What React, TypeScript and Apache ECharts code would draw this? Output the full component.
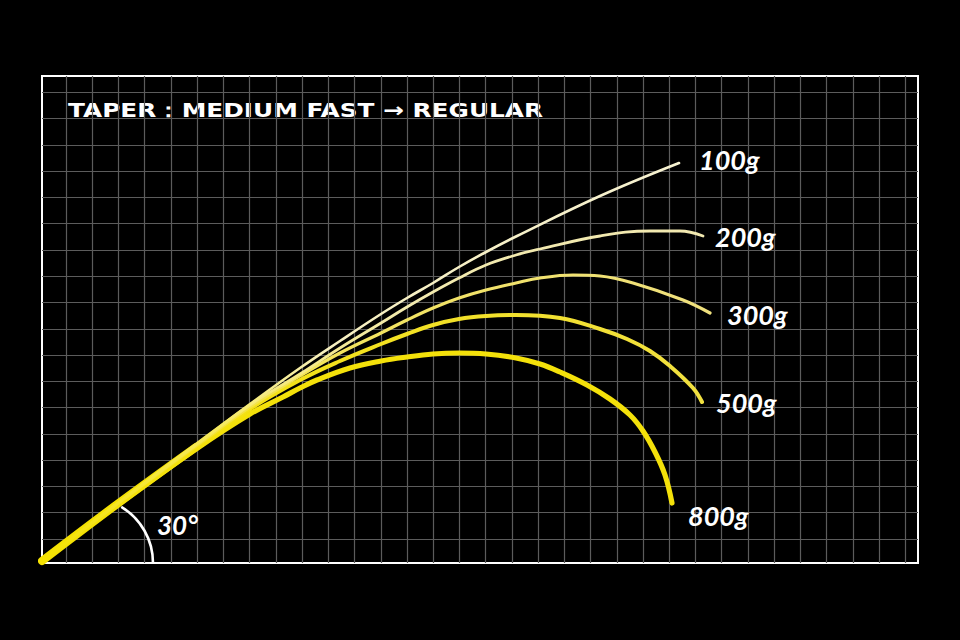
import { useEffect, useRef } from 'react'
import * as echarts from 'echarts'

// curve points: x = px from the left frame, y = px up from the bottom frame
const x800 = [0, 74, 154, 208, 241, 258, 275, 308, 339, 365, 391, 417, 444, 474, 498, 518, 545, 568, 588, 601, 613, 623, 630]
const y800 = [2, 57, 114, 149, 166, 175, 183, 195, 202, 206, 209, 210, 209, 205, 199, 191, 178, 164, 148, 132, 111, 88, 60]
const x500 = [0, 74, 154, 208, 258, 298, 339, 365, 391, 417, 444, 474, 518, 558, 585, 608, 628, 651, 660]
const y500 = [2, 58, 116, 154, 183, 202, 219, 229, 238, 244, 247, 248, 245, 234, 224, 212, 197, 175, 161]
const x300 = [0, 74, 154, 208, 258, 298, 339, 365, 391, 417, 444, 474, 498, 531, 558, 591, 641, 668]
const y300 = [2, 58, 117, 156, 187, 210, 230, 243, 255, 265, 273, 280, 285, 288, 287, 280, 263, 250]
const x200 = [0, 74, 154, 208, 258, 298, 339, 365, 391, 417, 444, 474, 498, 558, 608, 638, 661]
const y200 = [2, 58, 118, 158, 189, 215, 240, 256, 271, 285, 298, 308, 314, 327, 332, 332, 327]
const x100 = [0, 74, 154, 208, 258, 298, 339, 365, 391, 417, 444, 475, 558, 637]
const y100 = [2, 59, 119, 159, 195, 222, 249, 265, 280, 296, 311, 327, 367, 400]
const trunkX = [0, 74, 154]
const trunkY = [2, 58, 116]

const loads = ['800g', '500g', '300g', '200g', '100g']
const titleText = 'TAPER：MEDIUM FAST → REGULAR'
const angleText = '30°'

const zip = (xs: number[], ys: number[]) => xs.map((x, i) => [x, ys[i]])

const YELLOW = '#f5e200'

export default function App() {
  const chartRef = useRef<HTMLDivElement>(null)

  useEffect(() => {
    document.body.style.margin = '0'
    document.body.style.background = '#000'
    const chart = echarts.init(chartRef.current, null, { renderer: 'svg' })

    const grad = (stops: [number, string][]) =>
      new echarts.graphic.LinearGradient(
        0, 0, 1, 0,
        stops.map(([offset, color]) => ({ offset, color }))
      )

    const label = (offset: number[]) => ({
      show: true,
      formatter: '{a}',
      color: '#fff',
      fontFamily: 'Lato',
      fontStyle: 'italic',
      fontWeight: 'bold',
      fontSize: 27,
      distance: 0,
      offset
    })

    const curve = (name: string, xs: number[], ys: number[], width: number, color: any, offset: number[]) => ({
      name,
      type: 'line',
      xAxisIndex: 0,
      yAxisIndex: 0,
      data: zip(xs, ys),
      smooth: 0.4,
      showSymbol: false,
      silent: true,
      lineStyle: { width, color, cap: 'round' },
      endLabel: label(offset)
    })

    const hidden = { show: false }
    const gridLine = { show: true, showMinLine: false, showMaxLine: false, lineStyle: { color: '#5c5c5c', width: 1.2 } }

    chart.setOption({
      animation: false,
      backgroundColor: '#000',
      textStyle: { fontFamily: 'DejaVu Sans' },
      grid: [
        // data frame (white border)
        { left: 42, top: 76, width: 876, height: 487, show: true, borderColor: '#fff', borderWidth: 2, backgroundColor: 'transparent' },
        // vertical grid lines
        { left: 39.77, top: 76, width: 891.8, height: 487 },
        // horizontal grid lines
        { left: 42, top: 66.05, width: 876, height: 499.2 }
      ],
      xAxis: [
        { type: 'value', gridIndex: 0, min: 0, max: 876, show: false },
        {
          type: 'value', gridIndex: 1, min: -1, max: 33, interval: 1,
          axisLine: hidden, axisTick: hidden, axisLabel: hidden, splitLine: gridLine
        },
        { type: 'value', gridIndex: 2, min: 0, max: 1, show: false }
      ],
      yAxis: [
        { type: 'value', gridIndex: 0, min: 0, max: 487, show: false },
        { type: 'value', gridIndex: 1, min: 0, max: 1, show: false },
        {
          type: 'value', gridIndex: 2, min: -1, max: 18, interval: 1, inverse: true,
          axisLine: hidden, axisTick: hidden, axisLabel: hidden, splitLine: gridLine
        }
      ],
      series: [
        {
          type: 'line', data: zip(trunkX, trunkY), smooth: 0.4, showSymbol: false, silent: true,
          lineStyle: { width: 8, color: YELLOW, cap: 'round' }
        },
        curve(loads[0], x800, y800, 5.2, '#f4e10a', [16, 12]),
        curve(loads[1], x500, y500, 4, grad([[0, YELLOW], [1, '#f1e040']]), [14, 0]),
        curve(loads[2], x300, y300, 3.2, grad([[0, YELLOW], [0.4, '#f3e45a'], [1, '#efe07e']]), [17, 1]),
        curve(loads[3], x200, y200, 2.8, grad([[0, YELLOW], [0.33, '#f5e878'], [0.55, '#f3ebae'], [1, '#f1e8b0']]), [12, 0]),
        curve(loads[4], x100, y100, 2.6, grad([[0, YELLOW], [0.28, '#f6ea60'], [0.45, '#f7f0c0'], [1, '#f6f1d0']]), [20, -4])
      ],
      graphic: [
        {
          type: 'text',
          x: 68,
          y: 110,
          scaleX: 1.24,
          style: {
            text: titleText,
            fill: '#fff',
            font: 'bold 20px "DejaVu Sans"',
            verticalAlign: 'middle'
          }
        },
        {
          type: 'arc',
          shape: { cx: 87.5, cy: 563, r: 65.5, startAngle: -1.03, endAngle: 0, clockwise: true },
          style: { stroke: '#fff', lineWidth: 2.6, fill: 'none' },
          z: 10
        },
        {
          type: 'text',
          x: 157,
          y: 525,
          style: {
            text: angleText,
            fill: '#fff',
            font: 'italic bold 26px Lato',
            verticalAlign: 'middle'
          },
          z: 10
        }
      ]
    })

    return () => {
      chart.dispose()
    }
  }, [])

  return <div ref={chartRef} style={{ width: '960px', height: '640px' }} />
}
